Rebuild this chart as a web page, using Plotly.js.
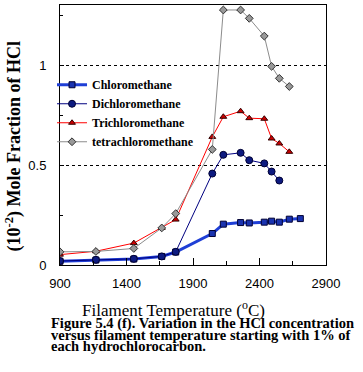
<!DOCTYPE html>
<html>
<head>
<meta charset="utf-8">
<script src="https://cdn.plot.ly/plotly-3.0.1.min.js"></script>
<style>html,body{margin:0;padding:0;background:#fff;}#chart{width:363px;height:372px;}</style>
</head>
<body>
<div id="chart"></div>
<script>
var chloroT = [900, 1170, 1455, 1665, 1770, 2045, 2128, 2258, 2323, 2436, 2491, 2549, 2624, 2707];
var chloroY = [0.019, 0.025, 0.030, 0.043, 0.065, 0.158, 0.205, 0.213, 0.211, 0.215, 0.220, 0.215, 0.230, 0.233];
var dichloroT = [900, 1170, 1455, 1665, 1770, 2045, 2128, 2258, 2323, 2436, 2491, 2549];
var dichloroY = [0.020, 0.026, 0.031, 0.043, 0.066, 0.459, 0.553, 0.563, 0.526, 0.510, 0.469, 0.424];
var trichloroT = [900, 1170, 1455, 1665, 1770, 2045, 2128, 2258, 2323, 2436, 2491, 2549, 2624];
var trichloroY = [0.052, 0.069, 0.110, 0.186, 0.228, 0.643, 0.744, 0.772, 0.737, 0.734, 0.635, 0.610, 0.568];
var tetraT = [900, 1170, 1455, 1665, 1770, 2045, 2128, 2258, 2323, 2436, 2491, 2549, 2624];
var tetraY = [0.066, 0.068, 0.083, 0.186, 0.258, 0.580, 1.280, 1.280, 1.238, 1.149, 0.997, 0.937, 0.896];
var seriesNames = ["Chloromethane", "Dichloromethane", "Trichloromethane", "tetrachloromethane"];
var xTickVals = [900, 1400, 1900, 2400, 2900];
var yTickVals = [0, 0.5, 1];
var yTickText = ["0", "0.5", "1"];
var captionLines = [
  "Figure 5.4 (f). Variation in the HCl concentration",
  "versus filament temperature starting with 1% of",
  "each hydrochlorocarbon."
];

var serif = "Liberation Serif, Times New Roman, serif";
function bold(s) { return "<b>" + s + "</b>"; }
var traces = [
  {x: chloroT, y: chloroY, name: bold(seriesNames[0]), mode: "lines+markers", type: "scatter",
   line: {color: "#1f3fd6", width: 3},
   marker: {symbol: "square", size: 6, color: "#1a33b0", line: {color: "#000033", width: 1}}},
  {x: dichloroT, y: dichloroY, name: bold(seriesNames[1]), mode: "lines+markers", type: "scatter",
   line: {color: "#000080", width: 1},
   marker: {symbol: "circle", size: 7, color: "#0d1a80", line: {color: "#000033", width: 1}}},
  {x: trichloroT, y: trichloroY, name: bold(seriesNames[2]), mode: "lines+markers", type: "scatter",
   line: {color: "#ff0000", width: 1},
   marker: {symbol: "triangle-up", size: 6, color: "#cc0000", line: {color: "#330000", width: 1}}},
  {x: tetraT, y: tetraY, name: bold(seriesNames[3]), mode: "lines+markers", type: "scatter",
   line: {color: "#8c8c8c", width: 1},
   marker: {symbol: "diamond", size: 6, color: "#999999", line: {color: "#333333", width: 1}}}
];

var annotations = [
  {text: "Filament Temperature (<sup>o</sup>C)", xref: "paper", yref: "paper", x: 0.427, y: -0.168,
   xanchor: "center", yanchor: "middle", showarrow: false, font: {family: serif, size: 17, color: "#000"}},
  {text: "<b>(10<sup>-2</sup>) Mole Fraction of HCl</b>", xref: "paper", yref: "paper", x: -0.173, y: 0.456,
   xanchor: "center", yanchor: "middle", textangle: -90, showarrow: false, font: {family: serif, size: 18, color: "#000"}}
];
var capY = [-0.225, -0.269, -0.313];
for (var i = 0; i < captionLines.length; i++) {
  annotations.push({text: "<b>" + captionLines[i] + "</b>", xref: "paper", yref: "paper", x: -0.0414, y: capY[i],
    xanchor: "left", yanchor: "middle", showarrow: false, font: {family: serif, size: 14.5, color: "#000"}});
}

var layout = {
  width: 363, height: 372,
  margin: {l: 60, r: 37, t: 5, b: 107, pad: 0},
  paper_bgcolor: "#fff", plot_bgcolor: "#fff",
  showlegend: true,
  legend: {x: -0.03, y: 0.749, xanchor: "left", yanchor: "top", bgcolor: "rgba(0,0,0,0)",
    font: {family: serif, size: 12, color: "#000"}},
  xaxis: {range: [900, 2900], tickvals: xTickVals, ticks: "inside", ticklen: 7, tickcolor: "#000",
    showline: true, linecolor: "#000", linewidth: 1, mirror: true, showgrid: false, zeroline: false,
    minor: {dtick: 250, tick0: 900, ticks: "inside", ticklen: 4, tickcolor: "#000", showgrid: false},
    tickfont: {family: "Liberation Sans, Arial, sans-serif", size: 13, color: "#000"},
    ticklabelstandoff: 6},
  yaxis: {range: [0, 1.305], tickvals: yTickVals, ticktext: yTickText, ticks: "inside", ticklen: 4, tickcolor: "#000",
    showline: true, linecolor: "#000", linewidth: 1, mirror: true, zeroline: false,
    showgrid: true, gridcolor: "#000", gridwidth: 1, griddash: "3px,3px",
    minor: {dtick: 0.25, tick0: 0, ticks: "inside", ticklen: 3, tickcolor: "#000", showgrid: false},
    tickfont: {family: "Liberation Sans, Arial, sans-serif", size: 13, color: "#000"},
    ticklabelstandoff: 10},
  annotations: annotations
};

Plotly.newPlot("chart", traces, layout, {displayModeBar: false, staticPlot: true});
</script>
</body>
</html>
